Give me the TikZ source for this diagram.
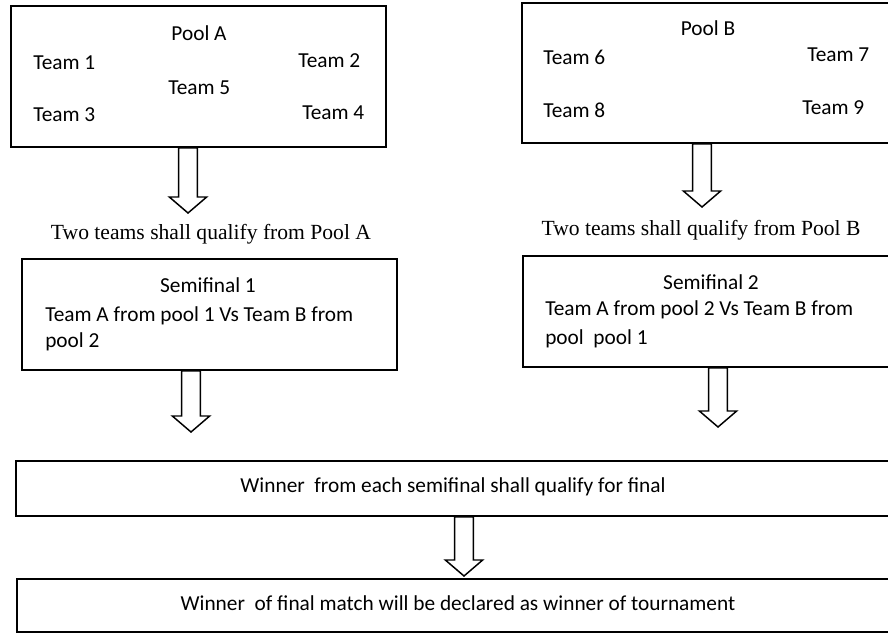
\documentclass[tikz,border=0pt]{standalone}
\usepackage{fontspec}
\setmainfont{Carlito}
\newfontfamily\tnr{Liberation Serif}
\usetikzlibrary{calc,fit}
\tikzset{
  box/.style={draw=black, line width=1.3pt, inner sep=0pt, rectangle},
  lbl/.style={inner sep=0pt, font=\fontsize{16}{19}\selectfont},
  lblw/.style={lbl, anchor=west},
  note/.style={inner sep=0pt, font=\tnr\fontsize{16.2}{19}\selectfont},
  blockarr/.style={draw=black, line width=1.1pt, fill=white, line join=miter}
}
\newcommand\blockarrow[2]{%
  \draw[blockarr] let \p1=(#1), \p2=(#2) in
    (\x2-7pt,\y1) -- (\x2+7pt,\y1) -- (\x2+7pt,\y2+12pt) -- (\x2+14pt,\y2+12pt)
    -- (\x2,\y2) -- (\x2-14pt,\y2+12pt) -- (\x2-7pt,\y2+12pt) -- cycle;}
\begin{document}
\begin{tikzpicture}[x=0.75pt, y=-0.75pt]
\useasboundingbox (0,0) rectangle (888,635);
\clip (0,0) rectangle (888,635);
\fill[white] (0,0) rectangle (888,635);

% boxes
\node[box, fit={(11,6) (386,147)}] (poolA) {};
\node[box, fit={(522,3) (896,143)}] (poolB) {};
\node[box, fit={(22,259) (397,370)}] (semi1) {};
\node[box, fit={(523,256) (896,367)}] (semi2) {};
\node[box, fit={(16,461) (896,516)}] (winner) {};
\node[box, fit={(17,579) (896,632)}] (final) {};

% Pool A texts
\node[lbl] (pa) at (199,33) {Pool A};
\node[lblw] (t1) at (33,63) {Team 1};
\node[lblw] (t2) at (298,61) {Team 2};
\node[lblw] (t5) at (168,88) {Team 5};
\node[lblw] (t3) at (33,115) {Team 3};
\node[lblw] (t4) at (302,113) {Team 4};

% Pool B texts
\node[lbl] (pb) at (708,28) {Pool B};
\node[lblw] (t6) at (543,57) {Team 6};
\node[lblw] (t7) at (807,55) {Team 7};
\node[lblw] (t8) at (543,110) {Team 8};
\node[lblw] (t9) at (802,108) {Team 9};

% qualification notes
\node[note] (qa) at (211,234) {Two teams shall qualify from Pool A};
\node[note] (qb) at (701,230) {Two teams shall qualify from Pool B};

% semifinal texts
\node[lbl] (s1t) at (208,285) {Semifinal 1};
\node[lblw] (s1a) at (45,316) {Team A from pool 1 Vs Team B from};
\node[lblw] (s1b) at (45,342) {pool 2};
\node[lbl] (s2t) at (711,282) {Semifinal 2};
\node[lblw] (s2a) at (545,310) {Team A from pool 2 Vs Team B from};
\node[lblw] (s2b) at (545,339) {pool\ \ pool 1};

% winner / final texts
\node[lbl] (wt) at (453,487) {Winner\ \ from each semifinal shall qualify for final};
\node[lbl] (ft) at (458,603) {Winner\ \ of final match will be declared as winner of tournament};

% arrow tips
\coordinate (tipA) at (188,213);
\coordinate (tipB) at (702,207);
\coordinate (tipS1) at (191,432);
\coordinate (tipS2) at (718,427);
\coordinate (tipW) at (464,576);

\blockarrow{poolA.south}{tipA}
\blockarrow{poolB.south}{tipB}
\blockarrow{semi1.south}{tipS1}
\blockarrow{semi2.south}{tipS2}
\blockarrow{winner.south}{tipW}
\end{tikzpicture}
\end{document}
